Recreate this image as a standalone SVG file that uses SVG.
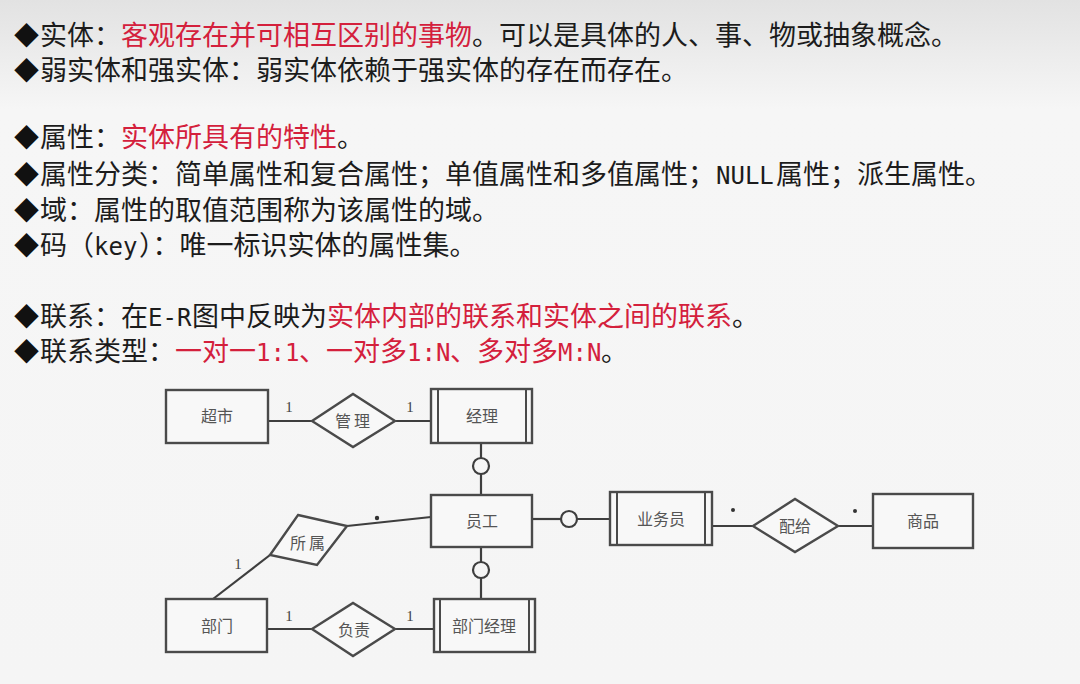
<svg xmlns="http://www.w3.org/2000/svg" width="1080" height="684" viewBox="0 0 1080 684">
<defs>
<linearGradient id="bg" x1="0" y1="0" x2="0" y2="1">
<stop offset="0" stop-color="#e2e2e2"/>
<stop offset="0.16" stop-color="#f6f6f6"/>
<stop offset="1" stop-color="#f5f5f5"/>
</linearGradient>
</defs>
<style>
.t{font-family:"Noto Sans CJK SC","Noto Sans",sans-serif;font-size:27px;fill:#1c1c1c}
.b{font-family:"Noto Sans CJK SC",sans-serif;font-size:25px;fill:#111}
.r{fill:#d4203c}
.m{font-family:"DejaVu Sans Mono","Liberation Mono",monospace;font-size:24px}
.box{fill:#f8f8f8;stroke:#4a4a4a;stroke-width:2.4}
.dia{fill:#f8f8f8;stroke:#4a4a4a;stroke-width:2.4;stroke-linejoin:miter}
.ln{fill:none;stroke:#3e3e3e;stroke-width:2.2}
.inner{stroke:#4a4a4a;stroke-width:2}
.lbl{font-family:"Noto Sans CJK SC",serif;font-size:16px;fill:#555;text-anchor:middle}
.num{font-family:"Liberation Serif",serif;font-size:15px;fill:#444;text-anchor:middle}
.dot{fill:#333}
</style>
<rect x="0" y="0" width="1080" height="684" fill="url(#bg)"/>

<g id="text">
<text class="b" x="14" y="45">◆</text>
<text class="t" x="40" y="45">实体：<tspan class="r">客观存在并可相互区别的事物</tspan>。可以是具体的人、事、物或抽象概念。</text>
<text class="b" x="14" y="80">◆</text>
<text class="t" x="40" y="80">弱实体和强实体：弱实体依赖于强实体的存在而存在。</text>
<text class="b" x="14" y="147">◆</text>
<text class="t" x="40" y="147">属性：<tspan class="r">实体所具有的特性</tspan>。</text>
<text class="b" x="14" y="184">◆</text>
<text class="t" x="40" y="184">属性分类：简单属性和复合属性；单值属性和多值属性；<tspan class="m" x="716">NULL</tspan><tspan x="776">属性；派生属性。</tspan></text>
<text class="b" x="14" y="220">◆</text>
<text class="t" x="40" y="220">域：属性的取值范围称为该属性的域。</text>
<text class="b" x="14" y="255">◆</text>
<text class="t" x="40" y="255">码（<tspan class="m" x="94">key</tspan><tspan x="139">）：唯一标识实体的属性集。</tspan></text>
<text class="b" x="14" y="326">◆</text>
<text class="t" x="40" y="326">联系：在<tspan class="m" x="148">E-R</tspan><tspan x="192">图中反映为</tspan><tspan class="r" x="327">实体内部的联系和实体之间的联系</tspan>。</text>
<text class="b" x="14" y="361">◆</text>
<text class="t" x="40" y="361">联系类型：<tspan class="r">一对一</tspan><tspan class="r m" x="256">1:1</tspan><tspan class="r" x="299">、一对多</tspan><tspan class="r m" x="407">1:N</tspan><tspan class="r" x="450">、多对多</tspan><tspan class="r m" x="558">M:N</tspan><tspan x="601">。</tspan></text>
</g>

<g id="connectors">
<line class="ln" x1="268" y1="421" x2="312" y2="421"/>
<line class="ln" x1="395" y1="421" x2="432" y2="421"/>
<line class="ln" x1="481" y1="443" x2="481" y2="458"/>
<circle class="ln" cx="481" cy="466" r="8"/>
<line class="ln" x1="481" y1="474" x2="481" y2="495"/>
<line class="ln" x1="481" y1="546" x2="481" y2="562"/>
<circle class="ln" cx="481" cy="570" r="8"/>
<line class="ln" x1="481" y1="578" x2="481" y2="599"/>
<line class="ln" x1="532" y1="519" x2="561" y2="519"/>
<circle class="ln" cx="569" cy="519" r="8"/>
<line class="ln" x1="577" y1="519" x2="610" y2="519"/>
<line class="ln" x1="347" y1="526" x2="431" y2="517"/>
<line class="ln" x1="270" y1="555" x2="213" y2="599"/>
<line class="ln" x1="267" y1="629" x2="312" y2="629"/>
<line class="ln" x1="395" y1="629" x2="434" y2="629"/>
<line class="ln" x1="712" y1="526" x2="753" y2="526"/>
<line class="ln" x1="838" y1="526" x2="873" y2="526"/>
<text class="num" x="289" y="412">1</text>
<text class="num" x="410" y="412">1</text>
<text class="num" x="238" y="569">1</text>
<text class="num" x="289" y="621">1</text>
<text class="num" x="410" y="621">1</text>
<circle class="dot" cx="377" cy="518" r="2.2"/>
<circle class="dot" cx="733" cy="510" r="2"/>
<circle class="dot" cx="855" cy="511" r="2"/>
</g>

<g id="supermarket">
<rect class="box" x="166" y="390" width="102" height="53"/>
<text class="lbl" x="217" y="422">超市</text>
</g>
<g id="manage">
<polygon class="dia" points="312,421 353,394 395,421 353,447"/>
<text class="lbl" x="354" y="427" letter-spacing="3">管理</text>
</g>
<g id="manager">
<rect class="box" x="431" y="389" width="101" height="54"/>
<line class="inner" x1="438" y1="389" x2="438" y2="443"/>
<line class="inner" x1="526" y1="389" x2="526" y2="443"/>
<text class="lbl" x="482" y="422">经理</text>
</g>
<g id="employee">
<rect class="box" x="431" y="495" width="101" height="52"/>
<text class="lbl" x="482" y="527">员工</text>
</g>
<g id="belong">
<polygon class="dia" points="298,515 347,526 317,565 270,555"/>
<text class="lbl" x="309" y="549" letter-spacing="3">所属</text>
</g>
<g id="department">
<rect class="box" x="166" y="599" width="101" height="53"/>
<text class="lbl" x="217" y="632">部门</text>
</g>
<g id="responsible">
<polygon class="dia" points="312,629 353,603 395,629 353,656"/>
<text class="lbl" x="354" y="636">负责</text>
</g>
<g id="deptmanager">
<rect class="box" x="434" y="599" width="101" height="53"/>
<line class="inner" x1="440" y1="599" x2="440" y2="652"/>
<line class="inner" x1="529" y1="599" x2="529" y2="652"/>
<text class="lbl" x="484" y="632">部门经理</text>
</g>
<g id="salesman">
<rect class="box" x="610" y="492" width="102" height="53"/>
<line class="inner" x1="617" y1="492" x2="617" y2="545"/>
<line class="inner" x1="705" y1="492" x2="705" y2="545"/>
<text class="lbl" x="661" y="525">业务员</text>
</g>
<g id="supply">
<polygon class="dia" points="753,526 795,499 838,526 795,552"/>
<text class="lbl" x="795" y="532">配给</text>
</g>
<g id="goods">
<rect class="box" x="873" y="494" width="100" height="54"/>
<text class="lbl" x="923" y="527">商品</text>
</g>
</svg>
